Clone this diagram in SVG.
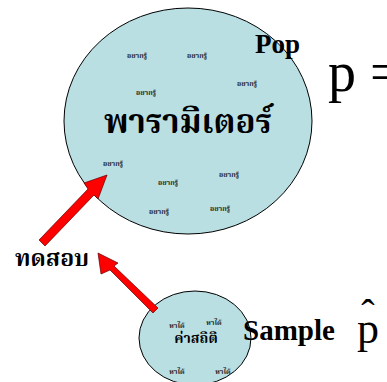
<svg xmlns="http://www.w3.org/2000/svg" width="387" height="382" viewBox="0 0 387 382">
  <style>
    .blob { fill: #b9dfe3; stroke: #000; stroke-width: 1; }
    .th { font-family: "Liberation Serif", "Noto Serif Thai", "DejaVu Serif", serif; font-weight: bold; fill: #000; }
    .tiny { font-size: 7px; text-anchor: middle; fill: #222; }
    .latin { font-family: "Liberation Serif", "Times New Roman", serif; fill: #000; }
    .arrow { fill: #ff0000; stroke: #600000; stroke-width: 0.7; }
  </style>

  <!-- population -->
  <g id="population">
    <ellipse class="blob" cx="188" cy="121" rx="124" ry="113"/>
    <text class="th" x="188" y="133" font-size="33" text-anchor="middle">พารามิเตอร์</text>
    <g class="th tiny">
      <text x="137" y="58">อยากรู้</text>
      <text x="197" y="58">อยากรู้</text>
      <text x="247" y="86">อยากรู้</text>
      <text x="146" y="95">อยากรู้</text>
      <text x="113" y="166">อยากรู้</text>
      <text x="229" y="177">อยากรู้</text>
      <text x="168" y="185">อยากรู้</text>
      <text x="220" y="211">อยากรู้</text>
      <text x="159" y="214">อยากรู้</text>
    </g>
  </g>
  <text class="latin" x="255" y="53" font-size="27" font-weight="bold">Pop</text>
  <text class="latin" x="328" y="91" font-size="56">p =</text>

  <!-- sample -->
  <g id="sample">
    <ellipse class="blob" cx="195" cy="338" rx="56" ry="47"/>
    <text class="th" x="196" y="343" font-size="14" text-anchor="middle">ค่าสถิติ</text>
    <g class="th tiny">
      <text x="177" y="328">หาได้</text>
      <text x="214" y="325">หาได้</text>
      <text x="177" y="374">หาได้</text>
      <text x="223" y="374">หาได้</text>
    </g>
  </g>
  <text class="latin" x="243" y="340" font-size="29" font-weight="bold">Sample</text>
  <g id="p-hat">
    <text class="latin" x="357" y="343" font-size="44">p</text>
    <text class="latin" x="368" y="327" font-size="40" text-anchor="middle">ˆ</text>
  </g>

  <text id="test-label" class="th" x="15" y="266" font-size="23">ทดสอบ</text>

  <!-- connectors -->
  <g id="connectors">
    <polygon class="arrow" points="39,240 45,246 94,195 98,199 107,175 84,183 88,189"/>
    <polygon class="arrow" points="158,308 153,313 110,270 101,274 98,253 118,263 114,266"/>
  </g>
</svg>
